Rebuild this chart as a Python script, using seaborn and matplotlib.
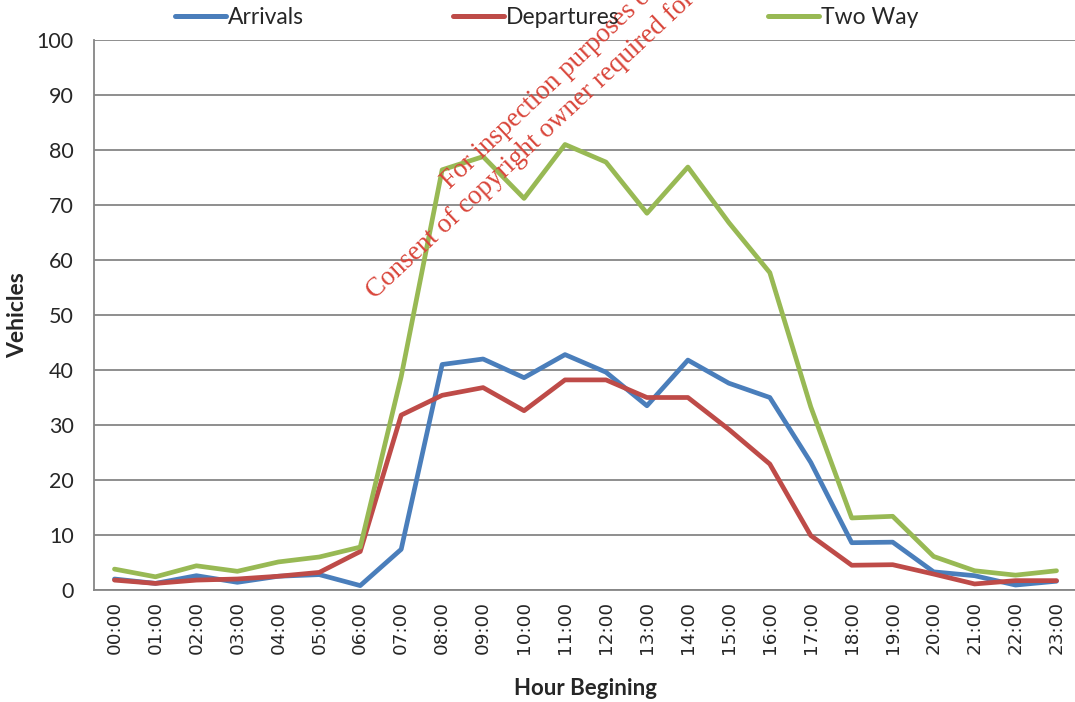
import numpy as np
import pandas as pd
import matplotlib
matplotlib.use("Agg")
import matplotlib.pyplot as plt
import seaborn as sns

hours = ["00:00", "01:00", "02:00", "03:00", "04:00", "05:00", "06:00", "07:00",
         "08:00", "09:00", "10:00", "11:00", "12:00", "13:00", "14:00", "15:00",
         "16:00", "17:00", "18:00", "19:00", "20:00", "21:00", "22:00", "23:00"]

arrivals = [2.0, 1.2, 2.6, 1.4, 2.5, 2.8, 0.8, 7.4, 41.0, 42.0, 38.6, 42.8,
            39.6, 33.5, 41.8, 37.6, 35.0, 23.2, 8.6, 8.7, 3.3, 2.6, 0.9, 1.6]
departures = [1.8, 1.2, 1.8, 2.0, 2.5, 3.2, 7.0, 31.8, 35.4, 36.8, 32.6, 38.2,
              38.2, 35.0, 35.0, 29.2, 22.9, 9.9, 4.5, 4.6, 2.9, 1.1, 1.7, 1.7]
two_way = [3.8, 2.4, 4.4, 3.4, 5.1, 6.0, 7.8, 38.8, 76.4, 78.8, 71.2, 81.0,
           77.8, 68.5, 76.9, 66.8, 57.7, 33.3, 13.1, 13.4, 6.1, 3.5, 2.7, 3.5]

series_names = ["Arrivals", "Departures", "Two Way"]
colors = ["#4a7ebb", "#be4b48", "#98b954"]

df = pd.DataFrame({
    "x": list(range(len(hours))) * 3,
    "Vehicles": arrivals + departures + two_way,
    "Series": [s for s in series_names for _ in hours],
})

sns.set_style("white")
plt.rcParams["font.family"] = ["Lato", "DejaVu Sans"]

fig = plt.figure(figsize=(10.75, 7.02), dpi=100)
ax = fig.add_axes([94 / 1075, 112 / 702, 983 / 1075, 550 / 702])

grid_col = "#868686"

sns.lineplot(data=df, x="x", y="Vehicles", hue="Series", hue_order=series_names,
             palette=colors, linewidth=3.4, ax=ax, legend=False, zorder=3)

ax.set_xlim(-0.5, 23.5)
ax.set_ylim(0, 100)
ax.set_yticks(range(0, 101, 10))
ax.yaxis.grid(True, color=grid_col, linewidth=1.3)
ax.set_axisbelow(True)

ax.set_xticks(range(len(hours)))
ax.set_xticklabels(hours, rotation=90, fontsize=13.2, family="DejaVu Sans")
ax.set_xticks(np.arange(-0.5, 24, 1), minor=True)
ax.tick_params(axis="x", which="major", length=0, pad=8)
ax.tick_params(axis="x", which="minor", length=5, color=grid_col, width=1.3)
ax.tick_params(axis="y", length=3.6, color=grid_col, width=1.3, labelsize=15.5, pad=11)

for side in ["top", "right"]:
    ax.spines[side].set_visible(False)
for side in ["left", "bottom"]:
    ax.spines[side].set_color(grid_col)
    ax.spines[side].set_linewidth(1.3)

ax.set_xlabel("Hour Begining", fontsize=16, fontweight="bold", labelpad=17)
ax.set_ylabel("Vehicles", fontsize=16.5, fontweight="bold", labelpad=6)

handles = [plt.Line2D([], [], color=c, linewidth=3.6) for c in colors]
fig.legend(handles, series_names, loc="center", bbox_to_anchor=(547 / 1075, 1 - 18 / 702),
           ncol=3, frameon=False, fontsize=16.5, handlelength=2.2, handletextpad=0.1,
           columnspacing=6.5)

# watermark
wm = "#d9453a"
fig.text(450 / 1075, 1 - 190 / 702, "For inspection purposes only.", rotation=43.5,
         color=wm, fontsize=19.5, family="Liberation Serif", ha="left", va="baseline",
         rotation_mode="anchor")
fig.text(375 / 1075, 1 - 300 / 702, "Consent of copyright owner required for any other use.",
         rotation=43, color=wm, fontsize=19.5, family="Liberation Serif", ha="left",
         va="baseline", rotation_mode="anchor")

fig.savefig("out.png", dpi=100)
